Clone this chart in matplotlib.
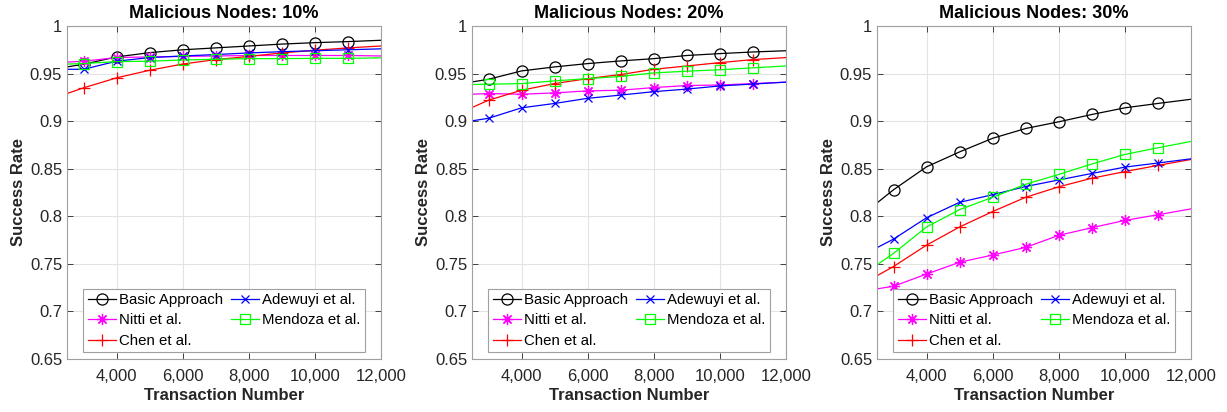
import matplotlib
matplotlib.use("Agg")
import matplotlib.pyplot as plt
from matplotlib.ticker import FormatStrFormatter, FuncFormatter

plt.rcParams['font.family'] = ['Liberation Sans', 'DejaVu Sans']

# transaction numbers at which the curves were sampled
transactions = [2500, 3000, 4000, 5000, 6000, 7000, 8000, 9000, 10000, 11000, 12000]

titles = ["Malicious Nodes: 10%", "Malicious Nodes: 20%", "Malicious Nodes: 30%"]
labels = ["Basic Approach", "Nitti et al.", "Chen et al.", "Adewuyi et al.", "Mendoza et al."]

# 10% malicious
basic_10 = [0.957, 0.9598, 0.9675, 0.972, 0.975, 0.977, 0.979, 0.981, 0.9825, 0.9836, 0.985]
nitti_10 = [0.962, 0.963, 0.9668, 0.9675, 0.968, 0.9685, 0.969, 0.969, 0.969, 0.969, 0.9685]
chen_10 = [0.929, 0.935, 0.9455, 0.9535, 0.960, 0.9647, 0.968, 0.9717, 0.9745, 0.977, 0.979]
adewuyi_10 = [0.9545, 0.9545, 0.963, 0.9668, 0.9685, 0.970, 0.9717, 0.973, 0.974, 0.975, 0.976]
mendoza_10 = [0.960, 0.9605, 0.9626, 0.963, 0.9643, 0.965, 0.9657, 0.9657, 0.966, 0.966, 0.9665]

# 20% malicious
basic_20 = [0.9412, 0.944, 0.9528, 0.957, 0.9605, 0.9633, 0.9657, 0.969, 0.971, 0.9727, 0.974]
nitti_20 = [0.9283, 0.929, 0.9283, 0.9297, 0.9318, 0.9325, 0.9353, 0.9374, 0.938, 0.9395, 0.941]
chen_20 = [0.9143, 0.922, 0.9325, 0.9395, 0.9447, 0.949, 0.9545, 0.958, 0.9615, 0.9647, 0.9668]
adewuyi_20 = [0.9003, 0.903, 0.914, 0.9186, 0.924, 0.9274, 0.931, 0.9337, 0.937, 0.939, 0.941]
mendoza_20 = [0.9385, 0.9388, 0.9395, 0.9423, 0.9447, 0.947, 0.9507, 0.9525, 0.954, 0.956, 0.958]

# 30% malicious
basic_30 = [0.814, 0.8279, 0.852, 0.8677, 0.882, 0.8923, 0.8993, 0.907, 0.914, 0.9186, 0.923]
nitti_30 = [0.7237, 0.7265, 0.7393, 0.7517, 0.7593, 0.7673, 0.780, 0.788, 0.7957, 0.8016, 0.8078]
chen_30 = [0.7375, 0.7472, 0.7697, 0.7888, 0.805, 0.820, 0.831, 0.840, 0.847, 0.8535, 0.8597]
adewuyi_30 = [0.767, 0.776, 0.7985, 0.8147, 0.8227, 0.8313, 0.8382, 0.845, 0.8517, 0.856, 0.8604]
mendoza_30 = [0.749, 0.761, 0.7888, 0.807, 0.820, 0.8337, 0.844, 0.855, 0.865, 0.872, 0.8787]

panels = [
    [basic_10, nitti_10, chen_10, adewuyi_10, mendoza_10],
    [basic_20, nitti_20, chen_20, adewuyi_20, mendoza_20],
    [basic_30, nitti_30, chen_30, adewuyi_30, mendoza_30],
]

styles = [
    dict(color='black', marker='o', markersize=8, markerfacecolor='none'),
    dict(color=(1, 0, 1), marker=(8, 2, 0), markersize=8),
    dict(color=(1, 0, 0), marker='+', markersize=9),
    dict(color=(0, 0, 1), marker='x', markersize=6),
    dict(color=(0, 1, 0), marker='s', markersize=7, markerfacecolor='none'),
]

W, H = 1227, 412
fig = plt.figure(figsize=(W / 100, H / 100), dpi=100)
lefts = [67, 472, 877]
tick_col = '#262626'

for i, left in enumerate(lefts):
    ax = fig.add_axes([left / W, (H - 359) / H, 314 / W, 333 / H])
    for series, label, st in zip(panels[i], labels, styles):
        ax.plot(transactions, series, label=label, linewidth=0.9,
                markeredgewidth=0.9, markevery=list(range(1, 10)), **st)
    ax.set_xlim(2500, 12000)
    ax.set_ylim(0.65, 1.0)
    ax.set_xticks([4000, 6000, 8000, 10000, 12000])
    ax.set_yticks([0.65, 0.7, 0.75, 0.8, 0.85, 0.9, 0.95, 1.0])
    ax.xaxis.set_major_formatter(FuncFormatter(lambda v, p: "{:,.0f}".format(v)))
    ax.yaxis.set_major_formatter(FormatStrFormatter('%g'))
    ax.grid(True, color='#e3e3e3', linewidth=0.8)
    ax.set_axisbelow(True)
    ax.tick_params(direction='in', top=True, right=True, labelsize=12,
                   colors=tick_col, length=4, width=0.6)
    ax.tick_params(axis='x', pad=7)
    for sp in ax.spines.values():
        sp.set_color('#a0a0a0')
        sp.set_linewidth(0.8)
    ax.set_title(titles[i], fontsize=13, fontweight='bold', pad=6)
    ax.set_xlabel("Transaction Number", fontsize=12, fontweight='bold', color=tick_col, labelpad=3)
    ax.set_ylabel("Success Rate", fontsize=12, fontweight='bold', color=tick_col, labelpad=3)
    leg = ax.legend(ncol=2, loc='lower center', bbox_to_anchor=(0.5, 0.0),
                    fontsize=10.8, handlelength=1.9, handletextpad=0.2,
                    columnspacing=0.5, labelspacing=0.42, borderpad=0.3,
                    borderaxespad=0.45, fancybox=False, framealpha=1)
    leg.get_frame().set_edgecolor('#a0a0a0')
    leg.get_frame().set_linewidth(0.8)

fig.savefig("out.png", dpi=100)
